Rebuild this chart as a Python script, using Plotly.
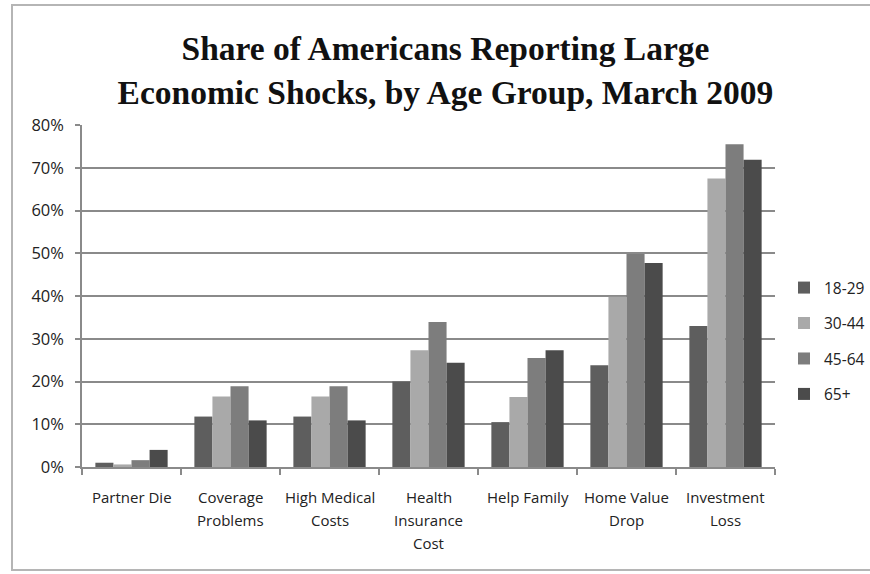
import plotly.graph_objects as go

categories = ["Partner Die", "Coverage Problems", "High Medical Costs", "Health Insurance Cost",
              "Help Family", "Home Value Drop", "Investment Loss"]
tick_labels = ["Partner Die", "Coverage<br>Problems", "High Medical<br>Costs", "Health<br>Insurance<br>Cost",
               "Help Family", "Home Value<br>Drop", "Investment<br>Loss"]
series_names = ["18-29", "30-44", "45-64", "65+"]
age_18_29 = [0.010, 0.118, 0.118, 0.200, 0.105, 0.238, 0.330]
age_30_44 = [0.006, 0.165, 0.165, 0.273, 0.164, 0.398, 0.675]
age_45_64 = [0.016, 0.189, 0.189, 0.339, 0.255, 0.498, 0.755]
age_65_plus = [0.040, 0.109, 0.109, 0.244, 0.273, 0.477, 0.719]
series_values = [age_18_29, age_30_44, age_45_64, age_65_plus]
colors = ["#5e5e5e", "#a9a9a9", "#7d7d7d", "#4b4b4b"]

FONT = "Open Sans"
W, H = 870, 574
ML, MR, MT, MB = 82, 95, 125, 107
PW, PH = W - ML - MR, H - MT - MB

def px_x(p):
    return (p - ML) / PW

def px_y(p):
    return (H - MB - p) / PH

fig = go.Figure()
for name, vals, col in zip(series_names, series_values, colors):
    fig.add_trace(go.Bar(x=categories, y=vals, name=name, marker=dict(color=col, line=dict(width=0)),
                         legendgroup=name))

# category labels: one annotation per line so the line spacing matches the original
annotations = []
for cat, lab in zip(categories, tick_labels):
    for i, line in enumerate(lab.split("<br>")):
        annotations.append(dict(x=cat, xref="x", y=px_y(497 + 23 * i), yref="paper",
                                text=line, showarrow=False, xanchor="center", yanchor="middle",
                                font=dict(family=FONT, size=15, color="#222222")))

fig.update_layout(
    width=W, height=H,
    margin=dict(l=ML, r=MR, t=MT, b=MB, autoexpand=False),
    paper_bgcolor="white", plot_bgcolor="white",
    bargap=0.27, bargroupgap=0,
    title=dict(text="<b>Share of Americans Reporting Large<br>Economic Shocks, by Age Group, March 2009</b>",
               font=dict(family="Liberation Serif", size=33.5, color="#111111"),
               x=0.512, xanchor="center", y=1 - 60 / H, yanchor="top", yref="container"),
    font=dict(family=FONT, size=15, color="#222222"),
    legend=dict(x=px_x(784), xanchor="left", y=px_y(271), yanchor="top",
                font=dict(family=FONT, size=15.5, color="#222222"),
                traceorder="grouped", tracegroupgap=12.3, bgcolor="rgba(0,0,0,0)"),
    xaxis=dict(tickmode="array", tickvals=categories, ticktext=tick_labels, tickson="boundaries",
               showticklabels=False,
               ticks="outside", ticklen=6, tickcolor="#8a8a8a", tickwidth=1.5,
               showline=True, linecolor="#8a8a8a", linewidth=1.5, showgrid=False),
    yaxis=dict(range=[0, 0.8], dtick=0.1, tickformat=".0%", ticks="outside", ticklen=5,
               ticklabelstandoff=8,
               tickcolor="#8a8a8a", tickwidth=1.5, showline=True, linecolor="#8a8a8a", linewidth=1.5,
               showgrid=True, gridcolor="#8a8a8a", gridwidth=1.5, zeroline=False,
               tickfont=dict(family=FONT, size=16.5, color="#222222")),
    annotations=annotations,
    shapes=[dict(type="rect", xref="paper", yref="paper",
                 x0=px_x(12), x1=px_x(900), y0=px_y(570), y1=px_y(5),
                 line=dict(color="#b5b5b5", width=2), layer="below")],
)

fig.write_html("out.html")
